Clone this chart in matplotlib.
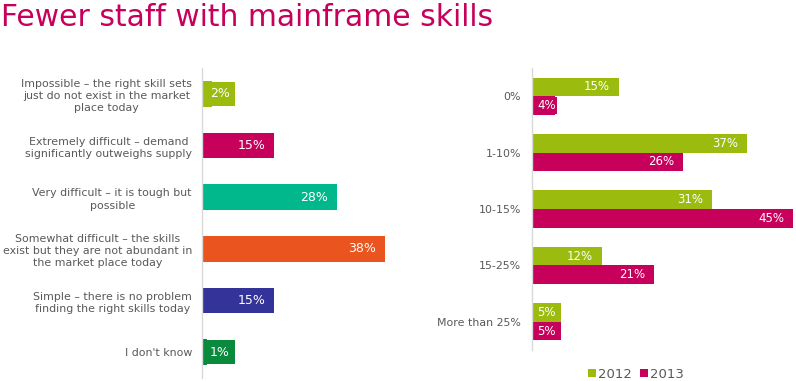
import matplotlib.pyplot as plt
from matplotlib.patches import Patch

# Daten links: Schwierigkeit, Fachkräfte zu finden
left_labels = [
    "Impossible \u2013 the right skill sets\njust do not exist in the market\nplace today",
    "Extremely difficult \u2013 demand\nsignificantly outweighs supply",
    "Very difficult \u2013 it is tough but\npossible",
    "Somewhat difficult \u2013 the skills\nexist but they are not abundant in\nthe market place today",
    "Simple \u2013 there is no problem\nfinding the right skills today",
    "I don't know",
]
left_values = [2, 15, 28, 38, 15, 1]
left_colors = ["#9bbb0e", "#c6005b", "#00b88c", "#e9541f", "#33339a", "#0a8a3c"]

# Daten rechts: Anteil Mitarbeiter mit Mainframe-Skills
right_labels = ["0%", "1-10%", "10-15%", "15-25%", "More than 25%"]
values_2012 = [15, 37, 31, 12, 5]
values_2013 = [4, 26, 45, 21, 5]
years = ["2012", "2013"]

green = "#9bbb0e"
magenta = "#c6005b"
gray_text = "#595959"
axis_gray = "#d9d9d9"

W, H = 796, 381
fig = plt.figure(figsize=(W / 100, H / 100), dpi=100)

fig.text(1 / W, 1 - 26 / H, "Fewer staff with mainframe skills", fontsize=21.4,
         color="#c6005b", ha="left", va="baseline")


def style_axis(ax, pad):
    for s in ["top", "right", "bottom"]:
        ax.spines[s].set_visible(False)
    ax.spines["left"].set_color(axis_gray)
    ax.spines["left"].set_linewidth(1)
    ax.set_xticks([])
    ax.tick_params(axis="y", length=0, pad=pad, labelcolor=gray_text, labelsize=7.9)


def add_label(ax, x, y, color, fontsize, small_pad, small_off):
    txt = f"{x}%"
    if x <= 5:
        # kleine Balken: Beschriftung mit farbigem Kasten
        ax.annotate(txt, (0, y), xytext=(small_off, 0), textcoords="offset pixels",
                    ha="left", va="center", color="white", fontsize=fontsize,
                    bbox=dict(boxstyle=f"square,pad={small_pad}", fc=color, ec="none"))
    else:
        ax.annotate(txt, (x, y), xytext=(-9, 0), textcoords="offset pixels",
                    ha="right", va="center", color="white", fontsize=fontsize)


# linke Grafik
ax1 = fig.add_axes([202 / W, 1 - 378 / H, 193 / W, 310 / H])
ypos = list(range(len(left_values)))
ax1.barh(ypos, left_values, height=0.5, color=left_colors)
ax1.set_xlim(0, 40)
ax1.set_ylim(5.5, -0.5)
ax1.set_yticks(ypos)
ax1.set_yticklabels(left_labels, multialignment="center", linespacing=1.3)
style_axis(ax1, 7.2)
for i, v in enumerate(left_values):
    add_label(ax1, v, i, left_colors[i], 9, 0.42, 8)

# rechte Grafik
ax2 = fig.add_axes([532 / W, 1 - 350 / H, 264 / W, 282 / H])
rpos = list(range(len(right_labels)))
h = 0.33
ax2.barh([p - h / 2 for p in rpos], values_2012, height=h, color=green)
ax2.barh([p + h / 2 for p in rpos], values_2013, height=h, color=magenta)
ax2.set_xlim(0, 45.5)
ax2.set_ylim(4.5, -0.5)
ax2.set_yticks(rpos)
ax2.set_yticklabels(right_labels)
style_axis(ax2, 8)
for i in rpos:
    add_label(ax2, values_2012[i], i - h / 2, green, 8.5, 0.15, 5)
    add_label(ax2, values_2013[i], i + h / 2, magenta, 8.5, 0.15, 5)

# Legende
handles = [Patch(fc=green, ec="none"), Patch(fc=magenta, ec="none")]
leg = fig.legend(handles, years, loc="center", bbox_to_anchor=(636 / W, 1 - 374 / H),
                 ncol=2, frameon=False, fontsize=9.5, handlelength=0.6, handleheight=0.6,
                 handletextpad=0.15, columnspacing=0.6, borderpad=0)
for t in leg.get_texts():
    t.set_color(gray_text)

fig.savefig("out.png", dpi=100)
